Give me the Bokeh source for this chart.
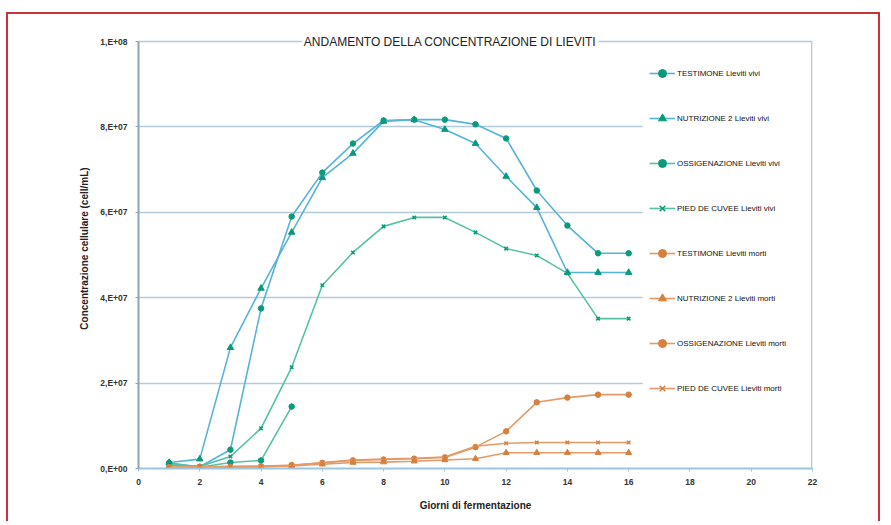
import math
from bokeh.plotting import figure
from bokeh.models import (FixedTicker, Legend, LegendItem, Label, BoxAnnotation, Range1d)
from bokeh.embed import file_html
from bokeh.resources import INLINE

nan = float("nan")

# ---------------- data ----------------
days = list(range(1, 17))

testimone_vivi = [1.3e6, 0.4e6, 4.4e6, 37.5e6, 59.0e6, 69.3e6, 76.1e6, 81.5e6,
                  81.7e6, 81.7e6, 80.6e6, 77.3e6, 65.1e6, 56.9e6, 50.4e6, 50.4e6]
nutrizione_vivi = [1.4e6, 2.2e6, 28.3e6, 42.2e6, 55.3e6, 68.1e6, 73.8e6, 81.3e6,
                   81.7e6, 79.4e6, 76.1e6, 68.4e6, 61.1e6, 45.9e6, 45.9e6, 45.9e6]
ossigenazione_vivi = [1.2e6, 0.3e6, 1.4e6, 1.9e6, 14.5e6, nan, nan, nan,
                      nan, nan, nan, nan, nan, nan, nan, nan]
pied_vivi = [0.8e6, 0.5e6, 2.8e6, 9.4e6, 23.7e6, 42.9e6, 50.6e6, 56.7e6,
             58.8e6, 58.8e6, 55.3e6, 51.5e6, 49.9e6, 45.7e6, 35.1e6, 35.1e6]

testimone_morti = [0.3e6, 0.3e6, 0.4e6, 0.5e6, 0.8e6, 1.3e6, 1.9e6, 2.1e6,
                   2.3e6, 2.6e6, 5.0e6, 8.7e6, 15.5e6, 16.6e6, 17.3e6, 17.3e6]
nutrizione_morti = [0.2e6, 0.3e6, 0.3e6, 0.4e6, 0.6e6, 1.0e6, 1.4e6, 1.5e6,
                    1.7e6, 2.0e6, 2.3e6, 3.7e6, 3.7e6, 3.7e6, 3.7e6, 3.7e6]
ossigenazione_morti = [0.2e6, 0.2e6, 0.3e6, 0.4e6, 0.6e6, nan, nan, nan,
                       nan, nan, nan, nan, nan, nan, nan, nan]
pied_morti = [0.3e6, 0.4e6, 0.5e6, 0.6e6, 0.7e6, 1.4e6, 2.0e6, 2.2e6,
              2.4e6, 2.7e6, 5.2e6, 5.9e6, 6.1e6, 6.1e6, 6.1e6, 6.1e6]

series_names = ["TESTIMONE Lieviti vivi", "NUTRIZIONE 2 Lieviti vivi",
                "OSSIGENAZIONE Lieviti vivi", "PIED DE CUVEE Lieviti vivi",
                "TESTIMONE Lieviti morti", "NUTRIZIONE 2 Lieviti morti",
                "OSSIGENAZIONE Lieviti morti", "PIED DE CUVEE Lieviti morti"]

x_ticks = [0, 2, 4, 6, 8, 10, 12, 14, 16, 18, 20, 22]
y_ticks = [0, 2e7, 4e7, 6e7, 8e7, 1e8]
y_tick_labels = ["0,E+00", "2,E+07", "4,E+07", "6,E+07", "8,E+07", "1,E+08"]

title_text = "ANDAMENTO DELLA CONCENTRAZIONE DI LIEVITI"
x_label = "Giorni di fermentazione"
y_label = "Concentrazione cellulare (cell/mL)"

# ---------------- styles ----------------
FONT = "Liberation Sans"
blue_line = "#56b4d8"
green_line = "#55c2a6"
teal_mark = "#0a9a7a"
orange_line = "#e39a68"
orange_mark = "#d67f3e"
frame_col = "#a9c3d6"
grid_col = "#b3cadb"

styles = [
    (testimone_vivi, blue_line, teal_mark, "circle", 5.5),
    (nutrizione_vivi, blue_line, teal_mark, "triangle", 6.5),
    (ossigenazione_vivi, green_line, teal_mark, "circle", 5.5),
    (pied_vivi, green_line, teal_mark, "x", 5),
    (testimone_morti, orange_line, orange_mark, "circle", 5.5),
    (nutrizione_morti, orange_line, orange_mark, "triangle", 6),
    (ossigenazione_morti, orange_line, orange_mark, "circle", 5.5),
    (pied_morti, orange_line, orange_mark, "x", 5),
]

# y range top leaves a little head-room so the title can sit on the 1E+08 line
y_top = 1e8 * 440 / 427

p = figure(width=874, height=509, x_range=Range1d(0, 22), y_range=Range1d(0, y_top),
           output_backend="svg", toolbar_location=None,
           min_border_left=130, min_border_right=70, min_border_top=14, min_border_bottom=55,
           margin=(12, 0, 0, 6),
           styles={"border-top": "2px solid #c8323c", "border-left": "2px solid #c8323c",
                   "border-right": "2px solid #c8323c"})
p.background_fill_color = "white"
p.border_fill_color = "white"
p.outline_line_color = None

# axes
p.xaxis.ticker = FixedTicker(ticks=x_ticks)
p.yaxis.ticker = FixedTicker(ticks=y_ticks)
p.yaxis.bounds = (0, 1e8)
p.yaxis.major_label_overrides = {t: l for t, l in zip(y_ticks, y_tick_labels)}
for ax in (p.xaxis, p.yaxis):
    ax.major_label_text_font = FONT
    ax.major_label_text_font_size = "8.5px"
    ax.major_label_text_font_style = "bold"
    ax.major_label_text_color = "#333333"
    ax.minor_tick_line_color = None
    ax.major_tick_in = 0
    ax.major_tick_out = 3
    ax.axis_label_text_font = FONT
    ax.axis_label_text_font_style = "bold"
    ax.axis_label_text_color = "#222222"
p.xaxis.axis_line_color = "#9cc6de"
p.xaxis.axis_line_width = 2
p.xaxis.major_tick_line_color = "#9cc6de"
p.yaxis.axis_line_color = "#8da3b6"
p.yaxis.axis_line_width = 2
p.yaxis.major_tick_line_color = "#8da3b6"
p.xaxis.major_label_standoff = 7
p.yaxis.major_label_standoff = 8
p.xaxis.axis_label = x_label
p.yaxis.axis_label = y_label
p.xaxis.axis_label_text_font_size = "10px"
p.yaxis.axis_label_text_font_size = "10px"
p.xaxis.axis_label_standoff = 12
p.yaxis.axis_label_standoff = 7

p.xgrid.grid_line_color = None
p.ygrid.ticker = FixedTicker(ticks=y_ticks)
p.ygrid.grid_line_color = grid_col
p.ygrid.grid_line_width = 1.5

# white panel behind legend (hides grid lines on the right, keeps top edge line)
p.add_layout(BoxAnnotation(left=16.46, right=22, bottom=0.4e6, top=99.5e6,
                           fill_color="white", fill_alpha=1.0, line_color=None))
# right frame edge (from 0 to 1E+08)
p.add_layout(BoxAnnotation(left=21.955, right=22, bottom=0, top=1e8,
                           fill_color=frame_col, fill_alpha=1.0, line_color=None))

items = []
for name, (vals, lc, mc, mk, sz) in zip(series_names, styles):
    r1 = p.line(days, vals, line_color=lc, line_width=1.6)
    r2 = p.scatter(days, vals, marker=mk, size=sz, fill_color=mc, line_color=mc,
                   line_width=1.5 if mk == "x" else 1)
    items.append(LegendItem(label=name, renderers=[r1, r2]))

legend = Legend(items=items, location=(511, 70), glyph_width=26, glyph_height=20,
                label_height=20, spacing=25, padding=0, margin=0, label_standoff=2,
                label_text_font=FONT, label_text_font_size="8px",
                label_text_color="#111111", border_line_color=None,
                background_fill_alpha=0)
p.add_layout(legend)

# title sitting on the top frame line
p.add_layout(Label(x=10.17, y=1e8, text=title_text, text_align="center",
                   text_baseline="middle", text_font=FONT, text_font_size="12px",
                   text_color="#222222", background_fill_color="white",
                   background_fill_alpha=1.0, padding=2, level="overlay"))

open("out.html", "w").write(file_html(p, INLINE))
